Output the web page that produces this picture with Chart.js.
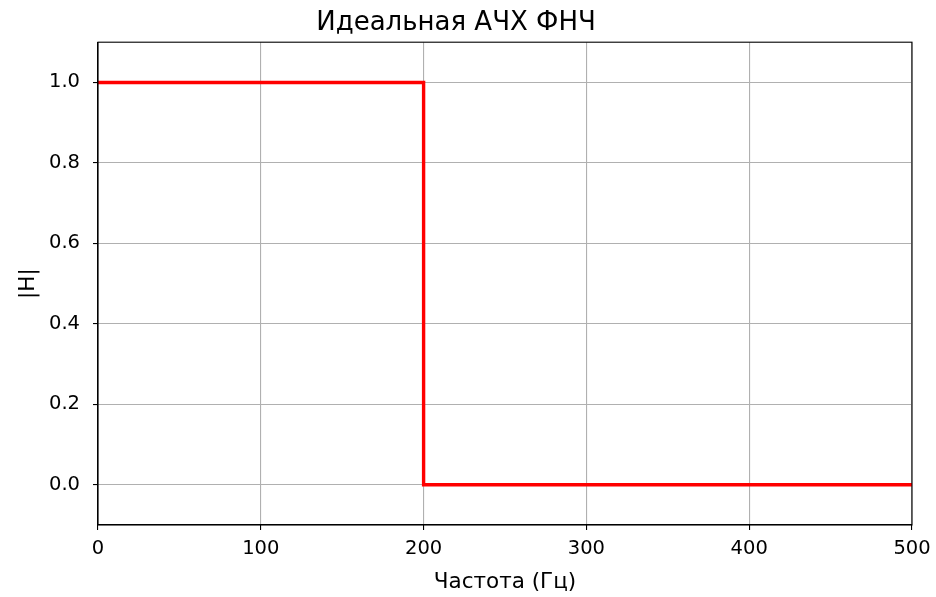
<!DOCTYPE html>
<html>
<head>
<meta charset="utf-8">
<script src="https://cdn.jsdelivr.net/npm/chart.js@4"></script>
<style>
  html, body { margin: 0; padding: 0; background: #fff; }
  #wrap { width: 936px; height: 597px; }
</style>
</head>
<body>
<div id="wrap"><canvas id="cv" width="936" height="597"></canvas></div>
<script>
// данные: идеальная АЧХ ФНЧ, срез 200 Гц
const freq = [0, 200, 200, 500];
const gain = [1, 1, 0, 0];
const xTicks = [0, 100, 200, 300, 400, 500];
const yTicks = [0, 0.2, 0.4, 0.6, 0.8, 1.0];

const FONT = 'DejaVu Sans';
const GRID = '#b0b0b0';

// рамка вокруг области графика (как в matplotlib)
const frame = {
  id: 'frame',
  afterDraw(c) {
    const a = c.chartArea, ctx = c.ctx;
    ctx.save();
    ctx.strokeStyle = '#000'; ctx.lineWidth = 1.1;
    ctx.strokeRect(a.left, a.top, a.right - a.left, a.bottom - a.top);
    ctx.restore();
  }
};

new Chart(document.getElementById('cv'), {
  type: 'line',
  data: {
    datasets: [{
      data: freq.map((f, i) => ({x: f, y: gain[i]})),
      borderColor: '#ff0000', borderWidth: 3.4,
      pointRadius: 0, tension: 0, fill: false
    }]
  },
  options: {
    responsive: false, animation: false,
    layout: {padding: {left: 0, right: 24, top: 0, bottom: 0}},
    plugins: {
      legend: {display: false}, tooltip: {enabled: false},
      title: {display: true, text: 'Идеальная АЧХ ФНЧ', color: '#000',
        font: {family: FONT, size: 26, weight: 'normal'}, padding: {top: 8, bottom: 3}}
    },
    scales: {
      x: {
        type: 'linear', min: 0, max: 500,
        // фиксированная высота оси и без лишнего отступа справа
        afterFit: s => { s.height = 72; s.paddingLeft = 0; s.paddingRight = 0; },
        afterBuildTicks: s => { s.ticks = xTicks.map(v => ({value: v})); },
        ticks: {color: '#000', font: {family: FONT, size: 19.5}, padding: 7, maxRotation: 0},
        grid: {color: GRID, lineWidth: 1.1, tickColor: '#000', tickLength: 5},
        border: {color: '#000', width: 1.1},
        title: {display: true, text: 'Частота (Гц)', color: '#000',
          font: {family: FONT, size: 21.5}, padding: {top: 2, bottom: 2}}
      },
      y: {
        type: 'linear', min: -0.1, max: 1.1,
        afterFit: s => { s.width = 98; },
        afterBuildTicks: s => { s.ticks = yTicks.map(v => ({value: v})); },
        ticks: {color: '#000', font: {family: FONT, size: 19.5}, padding: 13,
          callback: v => v.toFixed(1)},
        grid: {color: GRID, lineWidth: 1.1, tickColor: '#000', tickLength: 5},
        border: {color: '#000', width: 1.1},
        title: {display: true, text: '|H|', color: '#000',
          font: {family: FONT, size: 21.5}, padding: {top: 16, bottom: 2}}
      }
    }
  },
  plugins: [frame]
});
</script>
</body>
</html>
